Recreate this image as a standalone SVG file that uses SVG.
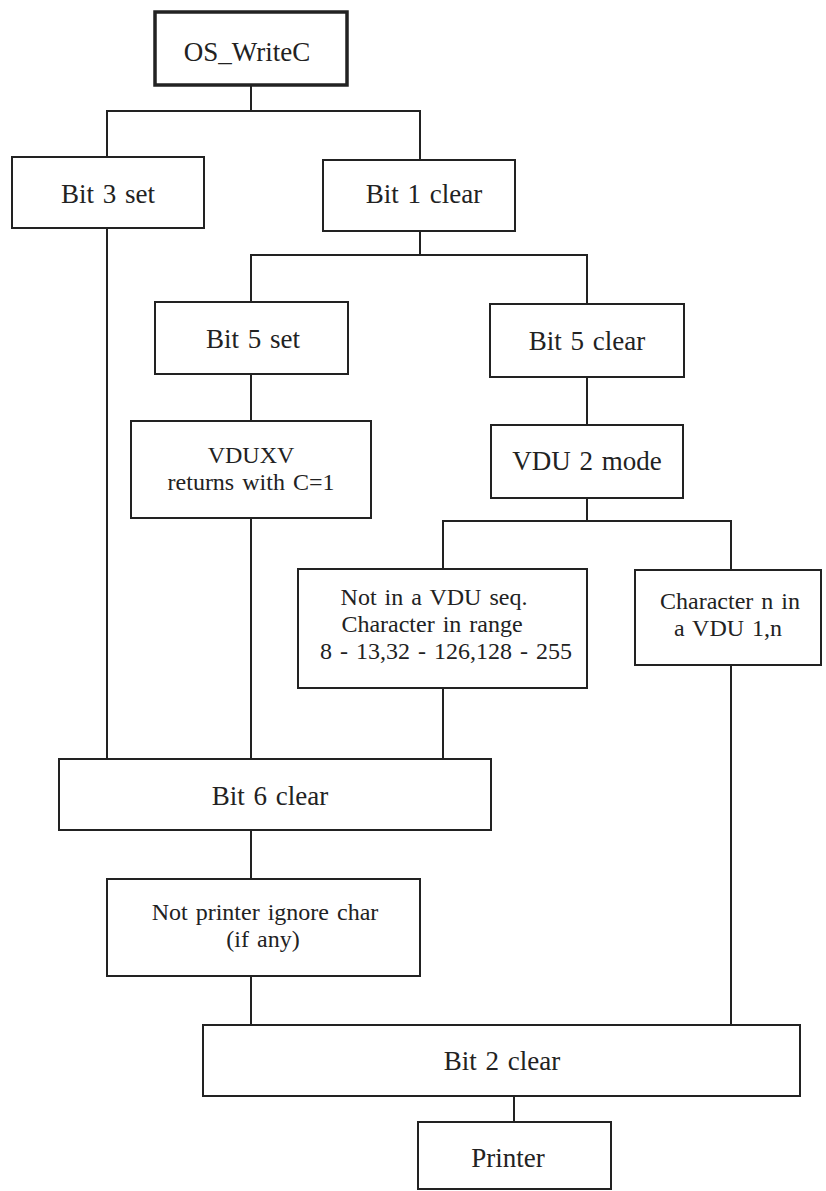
<svg xmlns="http://www.w3.org/2000/svg" width="826" height="1191" viewBox="0 0 826 1191">
<style>
rect{fill:#fff;stroke:#222;stroke-width:2}
#n0 rect{stroke-width:3.5}
text{font-family:"Liberation Serif",serif;font-size:27px;fill:#222;text-anchor:middle;word-spacing:2px}
text.m{font-size:24px}
#edges path{stroke:#222;stroke-width:2;fill:none}
</style>
<rect width="826" height="1191" fill="#fff" style="stroke:none"/>
<g id="edges">
<path d="M251 85V111M107 157V111H420V160"/>
<path d="M107 228V759"/>
<path d="M420 231V255M251 302V255H587V304"/>
<path d="M251 374V421M251 518V759"/>
<path d="M587 377V425M587 498V521M443 569V521H731V570"/>
<path d="M443 688V759M731 665V1025"/>
<path d="M251 830V879M251 976V1025M514 1096V1122"/>
</g>
<g id="n0"><rect x="155" y="12" width="192" height="73"/><text x="247" y="61">OS_WriteC</text></g>
<g id="n1"><rect x="12" y="157" width="192" height="71"/><text x="108" y="203">Bit 3 set</text></g>
<g id="n2"><rect x="323" y="160" width="192" height="71"/><text x="424" y="203">Bit 1 clear</text></g>
<g id="n3"><rect x="155" y="302" width="193" height="72"/><text x="253" y="348">Bit 5 set</text></g>
<g id="n4"><rect x="490" y="304" width="194" height="73"/><text x="587" y="350">Bit 5 clear</text></g>
<g id="n5"><rect x="131" y="421" width="240" height="97"/><text class="m" x="251" y="463">VDUXV<tspan x="251" dy="27">returns with C=1</tspan></text></g>
<g id="n6"><rect x="491" y="425" width="192" height="73"/><text x="587" y="470">VDU 2 mode</text></g>
<g id="n7"><rect x="298" y="569" width="289" height="119"/><text class="m" x="434" y="605">Not in a VDU seq.<tspan x="432" dy="27">Character in range</tspan><tspan x="446" dy="27">8 - 13,32 - 126,128 - 255</tspan></text></g>
<g id="n8"><rect x="635" y="570" width="186" height="95"/><text class="m" x="730" y="609">Character n in<tspan x="728" dy="27">a VDU 1,n</tspan></text></g>
<g id="n9"><rect x="59" y="759" width="432" height="71"/><text x="270" y="805">Bit 6 clear</text></g>
<g id="n10"><rect x="107" y="879" width="313" height="97"/><text class="m" x="265" y="920">Not printer ignore char<tspan x="263" dy="27">(if any)</tspan></text></g>
<g id="n11"><rect x="203" y="1025" width="597" height="71"/><text x="502" y="1070">Bit 2 clear</text></g>
<g id="n12"><rect x="418" y="1122" width="193" height="67"/><text x="508" y="1167">Printer</text></g>
</svg>
